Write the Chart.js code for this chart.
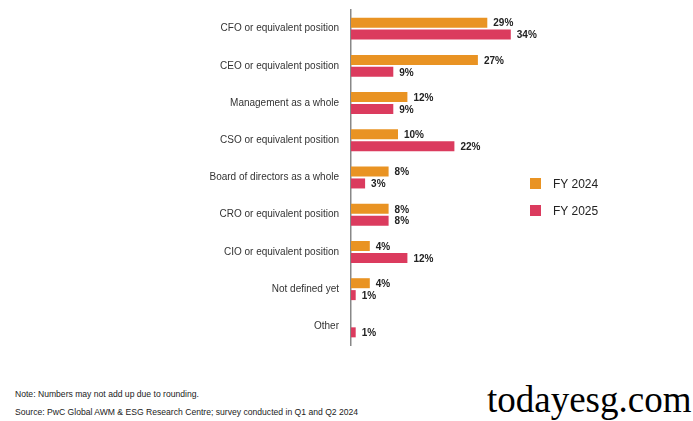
<!DOCTYPE html>
<html>
<head>
<meta charset="utf-8">
<script src="https://cdn.jsdelivr.net/npm/chart.js@4"></script>
<style>
  body { margin: 0; background: #fff; font-family: "Liberation Sans", Arial, sans-serif; }
  #wrap { position: relative; width: 693px; height: 421px; overflow: hidden; }
  #chartBox { position: absolute; left: 0; top: 0; width: 693px; height: 360px; }
  .legend { position: absolute; left: 530px; font-size: 12px; color: #222; }
  .legend span { display: inline-block; width: 11px; height: 11px; vertical-align: -1px; margin-right: 12px; }
  .note { position: absolute; left: 15px; font-size: 8.6px; color: #222; }
  #mark { position: absolute; left: 487px; top: 378px; font-family: "Liberation Serif", "Times New Roman", serif; font-size: 37px; color: #000; }
</style>
</head>
<body>
<div id="wrap">
  <div id="chartBox"><canvas id="roleChart"></canvas></div>
  <div class="legend" style="top:177px"><span style="background:#E99323"></span>FY 2024</div>
  <div class="legend" style="top:204px"><span style="background:#DB3B5E"></span>FY 2025</div>
  <div class="note" style="top:389px">Note: Numbers may not add up due to rounding.</div>
  <div class="note" style="top:407px">Source: PwC Global AWM &amp; ESG Research Centre; survey conducted in Q1 and Q2 2024</div>
  <div id="mark">todayesg.com</div>
</div>
<script>
// ================= DATA =================
const roles = [
    "CFO or equivalent position",
    "CEO or equivalent position",
    "Management as a whole",
    "CSO or equivalent position",
    "Board of directors as a whole",
    "CRO or equivalent position",
    "CIO or equivalent position",
    "Not defined yet",
    "Other"
];
const fy2024 = [29, 27, 12, 10, 8, 8, 4, 4, null];
const fy2025 = [34, 9, 9, 22, 3, 8, 12, 1, 1];

// ================= VALUE LABELS =================
const valueLabels = {
    id: "valueLabels",
    afterDatasetsDraw(chart) {
        const c = chart.ctx;
        c.save();
        c.font = "bold 10px 'Liberation Sans', Arial, sans-serif";
        c.fillStyle = "#222";
        c.textBaseline = "middle";
        chart.data.datasets.forEach((ds, i) => {
            chart.getDatasetMeta(i).data.forEach((bar, j) => {
                if (ds.data[j] === null) return;
                c.fillText(ds.data[j] + "%", bar.x + 6, bar.y + 1);
            });
        });
        c.restore();
    }
};

// ================= CHART =================
new Chart(document.getElementById("roleChart"), {
    type: "bar",
    data: {
        labels: roles,
        datasets: [
            { label: "FY 2024", data: fy2024, backgroundColor: "#E99323" },
            { label: "FY 2025", data: fy2025, backgroundColor: "#DB3B5E" }
        ]
    },
    options: {
        indexAxis: "y",
        responsive: true,
        maintainAspectRatio: false,
        animation: false,
        barPercentage: 0.84,
        categoryPercentage: 0.64,
        layout: { padding: { top: 8, right: 13, bottom: 15, left: 0 } },
        plugins: { legend: { display: false }, tooltip: { enabled: false } },
        scales: {
            x: { display: false, min: 0, max: 70 },
            y: {
                grid: { display: false },
                border: { display: true, color: "#888", width: 1.5 },
                ticks: {
                    color: "#333",
                    padding: 4,
                    font: { size: 10, family: "'Liberation Sans', Arial, sans-serif" }
                },
                afterFit(scale) { scale.width = 351; }
            }
        }
    },
    plugins: [valueLabels]
});
</script>
</body>
</html>
